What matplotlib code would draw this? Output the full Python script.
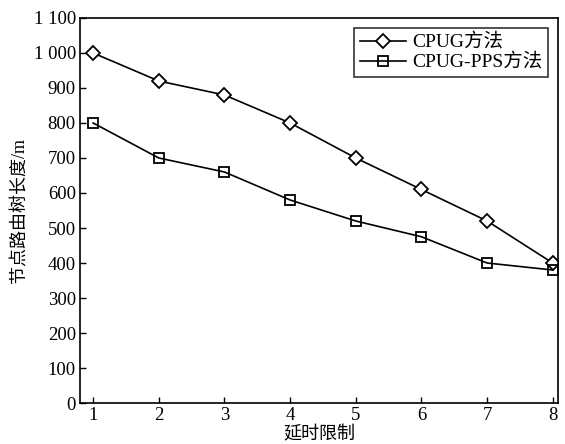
import matplotlib
matplotlib.use('Agg')
import matplotlib.pyplot as plt
from matplotlib.ticker import FuncFormatter

plt.rcParams['font.family'] = ['Liberation Serif', 'Noto Sans CJK SC']

# data
delay = [1, 2, 3, 4, 5, 6, 7, 8]
cpug = [1000, 920, 880, 800, 700, 610, 520, 400]
cpug_pps = [800, 700, 660, 580, 520, 475, 400, 380]
labels = ['CPUG方法', 'CPUG-PPS方法']

fig = plt.figure(figsize=(5.65, 4.44), dpi=100)
ax = fig.add_axes([0.1416, 0.0923, 0.846, 0.8672])

ax.plot(delay, cpug, color='black', linewidth=1.2, marker='D', markersize=7,
        markerfacecolor='white', markeredgecolor='black', markeredgewidth=1.3, label=labels[0])
ax.plot(delay, cpug_pps, color='black', linewidth=1.2, marker='s', markersize=7,
        markerfacecolor='none', markeredgecolor='black', markeredgewidth=1.3, label=labels[1])

ax.set_xlim(0.8, 8.08)
ax.set_ylim(0, 1100)
ax.set_xticks(delay)
ax.set_yticks(range(0, 1101, 100))


def fmt(v, pos):
    v = int(v)
    if v >= 1000:
        return '%d %03d' % (v // 1000, v % 1000)
    return str(v)


ax.yaxis.set_major_formatter(FuncFormatter(fmt))
ax.tick_params(direction='in', length=4, width=1, labelsize=13.5, colors='black')
ax.tick_params(axis='x', pad=3)
ax.tick_params(axis='y', pad=3)
for s in ax.spines.values():
    s.set_linewidth(1.2)

ax.set_xlabel('延时限制', fontsize=13, labelpad=1.5)
ax.set_ylabel('节点路由树长度/m', fontsize=13, labelpad=4)

leg = ax.legend(loc='upper right', fontsize=14, frameon=True, fancybox=False,
                edgecolor='black', handlelength=2.4, handletextpad=0.3,
                borderpad=0.3, labelspacing=0.1, borderaxespad=0.5)
leg.get_frame().set_linewidth(1.2)

fig.savefig('out.png', dpi=100)
